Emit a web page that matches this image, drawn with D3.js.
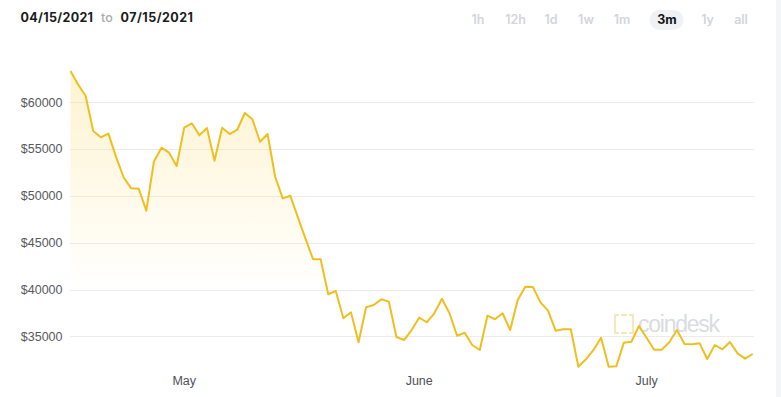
<!DOCTYPE html>
<html>
<head>
<meta charset="utf-8">
<script src="https://cdn.jsdelivr.net/npm/d3@7"></script>
<style>
  html, body { margin: 0; padding: 0; background: #fff; }
  svg { display: block; }
</style>
</head>
<body>
<svg id="chart" width="781" height="397"></svg>
<script>
// ---- data ----
const startDate = "2021-04-16"; // close of 04/15 (timestamped 00:00 UTC next day)
const endDate = "2021-07-16";
const prices = [
  63340, 61900, 60670, 56930, 56260, 56650, 54190, 51990, 50810, 50770,
  48420, 53650, 55150, 54620, 53200, 57290, 57760, 56470, 57250, 53760,
  57290, 56610, 57070, 58860, 58180, 55790, 56610, 52050, 49740, 50020,
  47710, 45430, 43230, 43230, 39490, 39840, 36920, 37560, 34360, 38100,
  38340, 38950, 38700, 34920, 34600, 35670, 36990, 36500, 37460, 39020,
  37460, 35060, 35380, 34070, 33540, 37200, 36820, 37460, 35670, 38880,
  40300, 40270, 38630, 37740, 35600, 35750, 35750, 31750, 32540, 33540,
  34850, 31750, 31790, 34320, 34420, 36100, 34850, 33570, 33570, 34360,
  35670, 34180, 34150, 34250, 32570, 34070, 33610, 34390, 33180, 32610,
  33110
];
const yTicks = [35000, 40000, 45000, 50000, 55000, 60000];
const rangeFrom = "04/15/2021";
const rangeTo = "07/15/2021";
const periods = ["1h", "12h", "1d", "1w", "1m", "3m", "1y", "all"];
const activePeriod = "3m";

// ---- build ----
const dates = d3.utcDay.range(new Date(startDate + "T00:00:00Z"), new Date(endDate + "T00:00:00Z"));
const data = dates.map((d, i) => ({ date: d, value: prices[i] }));

const svg = d3.select("#chart");
const W = 781, H = 397;

// right side strip
svg.append("rect").attr("x", 776).attr("y", 0).attr("width", 5).attr("height", H).attr("fill", "#f3f5f9");

const x = d3.scaleUtc()
  .domain([dates[0], dates[dates.length - 1]])
  .range([70.5, 752.7]);
const y = d3.scaleLinear()
  .domain([35000, 60000])
  .range([336.3, 102.3]);

// gridlines + y labels
const gy = svg.append("g");
gy.selectAll("line").data(yTicks).join("line")
  .attr("x1", 70).attr("x2", 754)
  .attr("y1", d => Math.round(y(d)) + 0.5).attr("y2", d => Math.round(y(d)) + 0.5)
  .attr("stroke", "#ececef").attr("stroke-width", 1);
gy.selectAll("text").data(yTicks).join("text")
  .attr("x", 62.5).attr("y", d => y(d))
  .attr("dy", "0.35em")
  .attr("text-anchor", "end")
  .attr("font-family", "Liberation Sans, Arial, sans-serif")
  .attr("font-size", 12.5)
  .attr("fill", "#58595e")
  .text(d => "$" + d);

// gradient fill
const defs = svg.append("defs");
const grad = defs.append("linearGradient").attr("id", "fillGrad")
  .attr("gradientUnits", "userSpaceOnUse")
  .attr("x1", 0).attr("x2", 0)
  .attr("y1", y(d3.max(prices))).attr("y2", 292);
grad.append("stop").attr("offset", 0).attr("stop-color", "#fbd65a").attr("stop-opacity", 0.28);
grad.append("stop").attr("offset", 0.6).attr("stop-color", "#fbd65a").attr("stop-opacity", 0.12);
grad.append("stop").attr("offset", 1).attr("stop-color", "#fbd65a").attr("stop-opacity", 0);

const area = d3.area()
  .x(d => x(d.date))
  .y0(372)
  .y1(d => y(d.value));
svg.append("path").datum(data)
  .attr("d", area)
  .attr("fill", "url(#fillGrad)");

// coindesk watermark
const wm = svg.append("g").attr("opacity", 1);
wm.append("path")
  .attr("d", "M619,315 h-4 v18 h4 M629,315 h4 v18 h-4 M621,315 h6 M621,333 h6")
  .attr("fill", "none").attr("stroke", "#f6e8bd").attr("stroke-width", 2.2);
wm.append("text")
  .attr("x", 638).attr("y", 331.5)
  .attr("font-family", "Liberation Sans, Arial, sans-serif")
  .attr("font-size", 23)
  .attr("fill", "#d9dce2")
  .attr("textLength", 82)
  .text("coindesk");

// line
const line = d3.line().x(d => x(d.date)).y(d => y(d.value));
svg.append("path").datum(data)
  .attr("d", line)
  .attr("fill", "none")
  .attr("stroke", "#efbf1f")
  .attr("stroke-width", 2)
  .attr("stroke-linejoin", "round");

// x axis labels
const xTicks = x.ticks(d3.utcMonth.every(1));
svg.append("g").selectAll("text").data(xTicks).join("text")
  .attr("x", d => x(d)).attr("y", 385)
  .attr("text-anchor", "middle")
  .attr("font-family", "Liberation Sans, Arial, sans-serif")
  .attr("font-size", 12.5)
  .attr("fill", "#4f5057")
  .text(d3.utcFormat("%B"));

// header: date range
const hdr = svg.append("g").attr("font-family", "Inter, 'Open Sans', sans-serif");
hdr.append("text").attr("x", 20.5).attr("y", 21.8)
  .attr("font-size", 12.5).attr("font-weight", 700).attr("fill", "#1a1b20")
  .attr("textLength", 72.5).text(rangeFrom);
hdr.append("text").attr("x", 101).attr("y", 21.8)
  .attr("font-size", 12.5).attr("font-weight", 500).attr("fill", "#a9abb3")
  .text("to");
hdr.append("text").attr("x", 120.5).attr("y", 21.8)
  .attr("font-size", 12.5).attr("font-weight", 700).attr("fill", "#1a1b20")
  .attr("textLength", 72.5).text(rangeTo);

// period buttons
const periodX = [478, 515.5, 551, 586, 622, 667, 707.5, 741];
const pg = svg.append("g").attr("font-family", "Inter, 'Open Sans', sans-serif");
pg.append("rect").attr("x", 649.5).attr("y", 10).attr("width", 34).attr("height", 20).attr("rx", 10)
  .attr("fill", "#eff1f5");
pg.selectAll("text").data(periods).join("text")
  .attr("x", (d, i) => periodX[i]).attr("y", 23.5)
  .attr("text-anchor", "middle")
  .attr("font-size", 12.5)
  .attr("font-weight", d => d === activePeriod ? 700 : 600)
  .attr("fill", d => d === activePeriod ? "#111216" : "#d3d5db")
  .text(d => d);
</script>
</body>
</html>
